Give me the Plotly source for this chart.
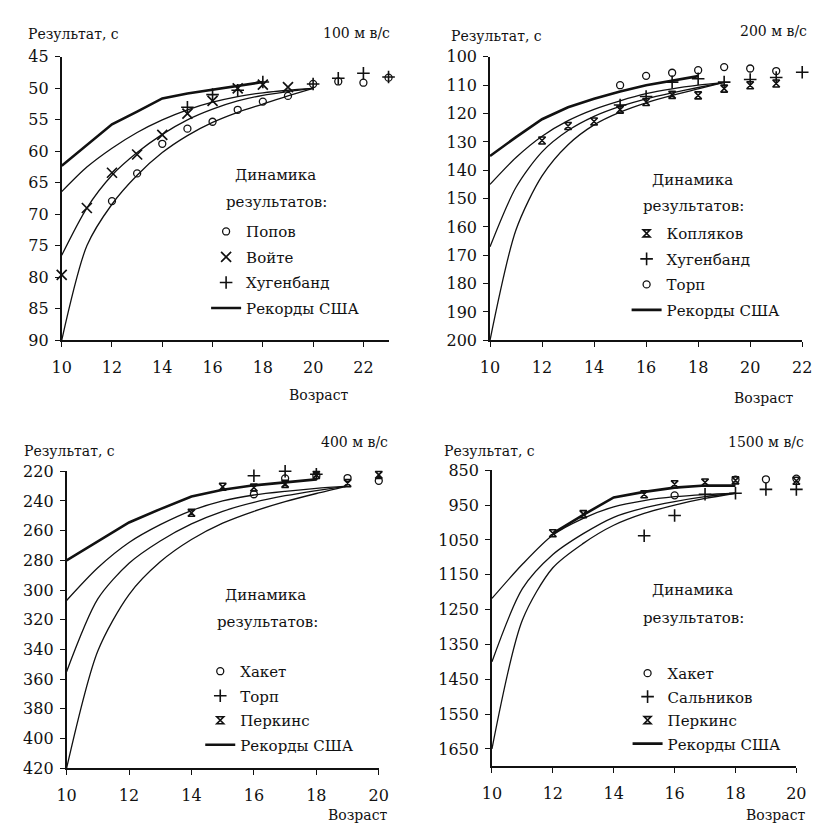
import plotly.graph_objects as go

W, H = 821, 834
FONT = "DejaVu Serif"
INK = "#111111"

# ---------------- 100 m ----------------
ages_100_model = [10, 11, 12, 13, 14, 15, 16, 17, 18, 19, 20]
model_100_a = [66.4, 62.5, 59.5, 57.0, 55.0, 53.4, 52.2, 51.3, 50.7, 50.3, 50.0]
model_100_b = [76.5, 69.0, 63.8, 60.2, 57.3, 55.0, 53.3, 52.0, 51.1, 50.5, 50.0]
model_100_c = [90.0, 75.0, 68.4, 63.8, 60.2, 57.5, 55.4, 53.8, 52.5, 51.2, 50.0]
ages_100_rec = [10, 11, 12, 13, 14, 15, 16, 17, 18]
rec_100 = [62.3, 59.0, 55.7, 53.7, 51.6, 50.8, 50.2, 49.6, 49.0]
ages_popov = [12, 13, 14, 15, 16, 17, 18, 19, 20, 21, 22, 23]
popov = [67.9, 63.5, 58.8, 56.4, 55.3, 53.4, 52.1, 51.2, 49.3, 48.9, 49.1, 48.3]
ages_voite = [10, 11, 12, 13, 14, 15, 16, 17, 18, 19]
voite = [79.6, 69.0, 63.4, 60.5, 57.4, 54.0, 52.0, 50.0, 49.4, 49.8]
ages_hug100 = [15, 16, 17, 18, 20, 21, 22, 23]
hug100 = [53.0, 51.0, 50.3, 49.0, 49.3, 48.4, 47.6, 48.2]

# ---------------- 200 m ----------------
ages_200_model = [10, 11, 12, 13, 14, 15, 16, 17, 18, 19]
model_200_a = [145.0, 135.5, 128.0, 122.5, 118.5, 115.5, 113.0, 111.3, 110.0, 109.0]
model_200_b = [167.0, 146.0, 133.5, 126.0, 121.0, 117.5, 114.8, 112.7, 110.8, 109.0]
model_200_c = [200.0, 161.0, 142.0, 131.0, 124.0, 119.5, 116.2, 113.6, 111.3, 109.0]
ages_200_rec = [10, 11, 12, 13, 14, 15, 16, 17, 18]
rec_200 = [135.0, 128.3, 122.0, 117.8, 114.8, 112.2, 110.0, 108.3, 106.8]
ages_kopl = [12, 13, 14, 15, 16, 17, 18, 19, 20, 21]
kopl = [129.5, 124.4, 122.8, 118.6, 115.9, 113.4, 113.6, 111.2, 110.0, 109.4]
ages_hug200 = [15, 16, 17, 18, 19, 20, 21, 22]
hug200 = [117.0, 114.0, 108.9, 107.7, 108.9, 108.0, 107.3, 105.4]
ages_thorpe200 = [15, 16, 17, 18, 19, 20, 21]
thorpe200 = [110.0, 106.7, 105.6, 104.7, 103.6, 104.1, 105.0]

# ---------------- 400 m ----------------
ages_400_model = [10, 11, 12, 13, 14, 15, 16, 17, 18, 19]
model_400_a = [307.0, 285.0, 268.0, 256.0, 246.5, 240.0, 236.0, 233.5, 231.5, 230.0]
model_400_b = [355.0, 306.0, 282.0, 267.0, 255.5, 247.0, 241.0, 236.5, 233.0, 230.0]
model_400_c = [420.0, 341.0, 303.0, 281.0, 266.0, 255.0, 247.0, 240.5, 235.0, 230.0]
ages_400_rec = [10, 11, 12, 13, 14, 15, 16, 17, 18]
rec_400 = [280.0, 267.0, 254.5, 245.5, 237.0, 232.5, 229.5, 227.5, 225.5]
ages_hacket400 = [16, 17, 18, 19, 20]
hacket400 = [235.5, 224.8, 223.0, 224.6, 226.5]
ages_thorpe400 = [16, 17, 18, 19, 20]
thorpe400 = [223.0, 220.0, 222.0, 218.0, 218.5]
ages_perk400 = [14, 15, 16, 17, 18, 19, 20]
perk400 = [248.0, 230.5, 231.0, 228.5, 222.5, 228.0, 222.5]

# ---------------- 1500 m ----------------
ages_1500_model = [10, 11, 12, 13, 14, 15, 16, 17, 18]
model_1500_a = [1218, 1120, 1036, 988, 955, 937, 926, 920, 916]
model_1500_b = [1400, 1190, 1092, 1032, 985, 958, 940, 926, 916]
model_1500_c = [1650, 1280, 1130, 1060, 1008, 974, 950, 931, 916]
ages_1500_rec = [12, 13, 14, 15, 16, 17, 18]
rec_1500 = [1031, 978, 928, 912, 900, 894, 894]
ages_hacket1500 = [16, 18, 19, 20]
hacket1500 = [922, 877, 876, 874]
ages_saln = [15, 16, 17, 18, 19, 20]
saln = [1038, 980, 919, 916, 905, 905]
ages_perk1500 = [12, 13, 15, 16, 17, 18, 20]
perk1500 = [1031, 976, 919, 890, 885, 879, 880]

# ---------------- layout geometry (pixels) ----------------
def fx(p):
    return p / W

def fy(p):
    return 1 - p / H

panels = [
    dict(x0=53, x1=388, y0=49, y1=339, xr=[10, 23], yr=[90, 45], dt=5, t0=45),
    dict(x0=492, x1=812, y0=49, y1=339, xr=[10, 22], yr=[200, 100], dt=10, t0=100),
    dict(x0=58, x1=378, y0=473, y1=777, xr=[10, 20], yr=[420, 220], dt=20, t0=220),
    dict(x0=494, x1=806, y0=472, y1=775, xr=[10, 20], yr=[1700, 850], dt=100, t0=850),
]

fig = go.Figure()

MARK = {
    "circle": dict(symbol="circle-open", size=7, color=INK, line=dict(width=1.3, color=INK)),
    "x": dict(symbol="x-thin-open", size=10, color=INK, line=dict(width=1.7, color=INK)),
    "plus": dict(symbol="cross-thin-open", size=9, color=INK, line=dict(width=1.6, color=INK)),
    "hour": dict(symbol="hourglass-open", size=7, color=INK, line=dict(width=1.6, color=INK)),
}

def add_panel(i, models_x, models, rec_x, rec_y, markers):
    xa = "x" if i == 1 else f"x{i}"
    ya = "y" if i == 1 else f"y{i}"
    lg = "legend" if i == 1 else f"legend{i}"
    for m in models:
        fig.add_trace(go.Scatter(x=models_x, y=m, mode="lines", xaxis=xa, yaxis=ya,
                                 line=dict(color=INK, width=1.3, shape="spline", smoothing=0.8),
                                 showlegend=False, hoverinfo="skip", cliponaxis=False))
    for k, (name, mx, my, sym) in enumerate(markers):
        fig.add_trace(go.Scatter(x=mx, y=my, mode="markers", name=name, xaxis=xa, yaxis=ya,
                                 marker=MARK[sym], legend=lg, legendgroup=f"g{i}_{k}",
                                 cliponaxis=False))
    fig.add_trace(go.Scatter(x=rec_x, y=rec_y, mode="lines", name="Рекорды США", xaxis=xa, yaxis=ya,
                             line=dict(color=INK, width=2.6), legend=lg, legendgroup=f"g{i}_r",
                             cliponaxis=False))

add_panel(1, ages_100_model, [model_100_a, model_100_b, model_100_c], ages_100_rec, rec_100,
          [("Попов", ages_popov, popov, "circle"),
           ("Войте", ages_voite, voite, "x"),
           ("Хугенбанд", ages_hug100, hug100, "plus")])
add_panel(2, ages_200_model, [model_200_a, model_200_b, model_200_c], ages_200_rec, rec_200,
          [("Копляков", ages_kopl, kopl, "hour"),
           ("Хугенбанд", ages_hug200, hug200, "plus"),
           ("Торп", ages_thorpe200, thorpe200, "circle")])
add_panel(3, ages_400_model, [model_400_a, model_400_b, model_400_c], ages_400_rec, rec_400,
          [("Хакет", ages_hacket400, hacket400, "circle"),
           ("Торп", ages_thorpe400, thorpe400, "plus"),
           ("Перкинс", ages_perk400, perk400, "hour")])
add_panel(4, ages_1500_model, [model_1500_a, model_1500_b, model_1500_c], ages_1500_rec, rec_1500,
          [("Хакет", ages_hacket1500, hacket1500, "circle"),
           ("Сальников", ages_saln, saln, "plus"),
           ("Перкинс", ages_perk1500, perk1500, "hour")])

tickfont = dict(family=FONT, size=16, color=INK)
lay = {}
for i, p in enumerate(panels, start=1):
    xk = "xaxis" if i == 1 else f"xaxis{i}"
    yk = "yaxis" if i == 1 else f"yaxis{i}"
    ya = "y" if i == 1 else f"y{i}"
    xa = "x" if i == 1 else f"x{i}"
    lay[xk] = dict(domain=[fx(p["x0"]), fx(p["x1"])], anchor=ya, range=p["xr"],
                   tick0=10, dtick=2, showgrid=False, zeroline=False, showline=True,
                   linecolor=INK, linewidth=1.6, ticks="outside", ticklen=5, tickwidth=1.3,
                   tickcolor=INK, tickfont=tickfont, ticklabelstandoff=7)
    lay[yk] = dict(domain=[fy(p["y1"]), fy(p["y0"])], anchor=xa, range=p["yr"],
                   tick0=p["t0"], dtick=p["dt"], showgrid=False, zeroline=False, showline=True,
                   linecolor=INK, linewidth=1.6, ticks="outside", ticklen=5, tickwidth=1.3,
                   tickcolor=INK, tickfont=tickfont, ticklabelstandoff=3)

leg_font = dict(family=FONT, size=15, color=INK)
legend_pos = [(201, 211), (632, 213), (195, 661), (633, 663)]
legend_gap = [3, 3, 2, 1]
for i, (lx, ly) in enumerate(legend_pos, start=1):
    key = "legend" if i == 1 else f"legend{i}"
    lay[key] = dict(x=fx(lx), y=fy(ly), xanchor="left", yanchor="top", font=leg_font,
                    bgcolor="rgba(0,0,0,0)", traceorder="grouped",
                    tracegroupgap=legend_gap[i - 1], itemwidth=30)

fig.update_layout(width=W, height=H, margin=dict(l=0, r=0, t=0, b=0),
                  paper_bgcolor="white", plot_bgcolor="white", **lay)

def ann(text, x, y, xanchor="left", size=14):
    fig.add_annotation(text=text, x=fx(x), y=fy(y), xref="paper", yref="paper",
                       xanchor=xanchor, yanchor="middle", showarrow=False,
                       font=dict(family=FONT, size=size, color=INK))

# panel labels
ann("Результат, с", 16, 26)
ann("100 м в/с", 392, 25, "right")
ann("Возраст", 350, 395, "right")
ann("Результат, с", 450, 28)
ann("200 м в/с", 819, 23, "right")
ann("Возраст", 806, 398, "right")
ann("Результат, с", 12, 452)
ann("400 м в/с", 389, 443, "right")
ann("Возраст", 390, 825, "right")
ann("Результат, с", 443, 452)
ann("1500 м в/с", 816, 443, "right")
ann("Возраст", 818, 825, "right")

# legend headings
ann("Динамика", 272, 170, "center", 15)
ann("результатов:", 273, 197, "center", 15)
ann("Динамика", 700, 175, "center", 15)
ann("результатов:", 701, 202, "center", 15)
ann("Динамика", 262, 600, "center", 15)
ann("результатов:", 264, 627, "center", 15)
ann("Динамика", 700, 595, "center", 15)
ann("результатов:", 701, 623, "center", 15)

fig.write_html("out.html")
